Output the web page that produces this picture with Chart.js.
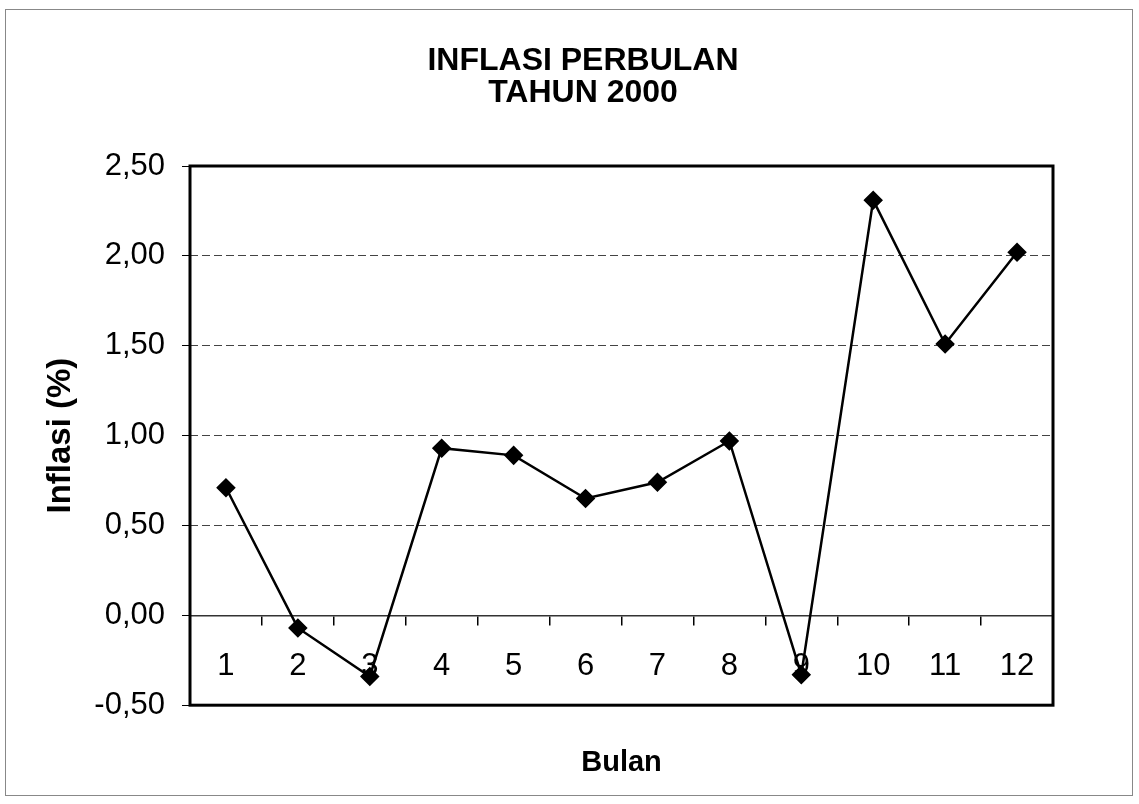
<!DOCTYPE html>
<html>
<head>
<meta charset="utf-8">
<script src="https://cdn.jsdelivr.net/npm/chart.js@4/dist/chart.umd.min.js"></script>
<style>
  html, body { margin: 0; padding: 0; background: #fff; }
  #wrap { width: 1139px; height: 804px; }
</style>
</head>
<body>
<div id="wrap"><canvas id="chart" width="1139" height="804"></canvas></div>
<script>
const bulan = ['1', '2', '3', '4', '5', '6', '7', '8', '9', '10', '11', '12'];
const inflasi = [0.71, -0.07, -0.34, 0.93, 0.89, 0.65, 0.74, 0.97, -0.33, 2.31, 1.51, 2.02];
const judul = ['INFLASI PERBULAN', 'TAHUN 2000'];
const yMin = -0.5, yMax = 2.5, yStep = 0.5;

const fontFamily = "'Liberation Sans', Arial, sans-serif";

// frame around the plot area plus the faint outer border of the scan
Chart.register({
  id: 'frames',
  afterLayout(chart) {
    // let the y scale (labels + title) reach the left edge so nothing is clipped
    chart.scales.y.left = 0;
  },
  beforeDraw(chart) {
    const ctx = chart.ctx;
    ctx.save();
    ctx.fillStyle = '#fff';
    ctx.fillRect(0, 0, chart.width, chart.height);
    ctx.strokeStyle = '#888';
    ctx.lineWidth = 1;
    ctx.strokeRect(5.5, 9.5, 1127, 786);
    ctx.restore();
  },
  afterDraw(chart) {
    const a = chart.chartArea;
    const ctx = chart.ctx;
    ctx.save();
    ctx.strokeStyle = '#000';
    ctx.lineWidth = 3;
    ctx.strokeRect(a.left, a.top, a.right - a.left, a.bottom - a.top);
    ctx.restore();
  }
});

new Chart(document.getElementById('chart'), {
  type: 'line',
  data: {
    labels: bulan,
    datasets: [{
      data: inflasi,
      borderColor: '#000',
      borderWidth: 2.5,
      tension: 0,
      fill: false,
      pointStyle: 'rectRot',
      pointRadius: 8,
      pointBackgroundColor: '#000',
      pointBorderColor: '#000'
    }]
  },
  options: {
    responsive: false,
    animation: false,
    layout: { padding: { left: 113, right: 86, top: 0, bottom: 0 } },
    plugins: {
      legend: { display: false },
      tooltip: { enabled: false },
      title: {
        display: true,
        text: judul,
        color: '#000',
        font: { family: fontFamily, size: 32, weight: 'bold', lineHeight: 1.0 },
        padding: { top: 45, bottom: 57 }
      },
      subtitle: {
        display: true,
        position: 'bottom',
        fullSize: false,
        text: 'Bulan',
        color: '#000',
        font: { family: fontFamily, size: 29, weight: 'bold', lineHeight: 1.2 },
        padding: { top: 40, bottom: 24 }
      }
    },
    scales: {
      x: {
        type: 'category',
        position: { y: 0 },
        offset: true,
        grid: { display: true, drawOnChartArea: false, drawTicks: true, tickLength: 9, color: '#000', lineWidth: 1.5, offset: true },
        border: { display: true, color: '#333', width: 1.5, dash: [8, 4] },
        ticks: { color: '#000', font: { family: fontFamily, size: 31 }, padding: 24, maxRotation: 0 }
      },
      y: {
        min: yMin,
        max: yMax,
        afterFit(scale) { scale.width = 77; },
        grid: { color: '#444', lineWidth: 1, tickLength: 8, tickColor: '#000', tickBorderDash: [] },
        border: { display: false, dash: [8, 4] },
        ticks: {
          stepSize: yStep,
          color: '#000',
          padding: 17,
          font: { family: fontFamily, size: 31 },
          callback: v => v.toFixed(2).replace('.', ',')
        },
        title: {
          display: true,
          text: 'Inflasi (%)',
          color: '#000',
          font: { family: fontFamily, size: 33, weight: 'bold', lineHeight: 1.2 },
          padding: { top: 41, bottom: 0 }
        }
      }
    }
  }
});
</script>
</body>
</html>
